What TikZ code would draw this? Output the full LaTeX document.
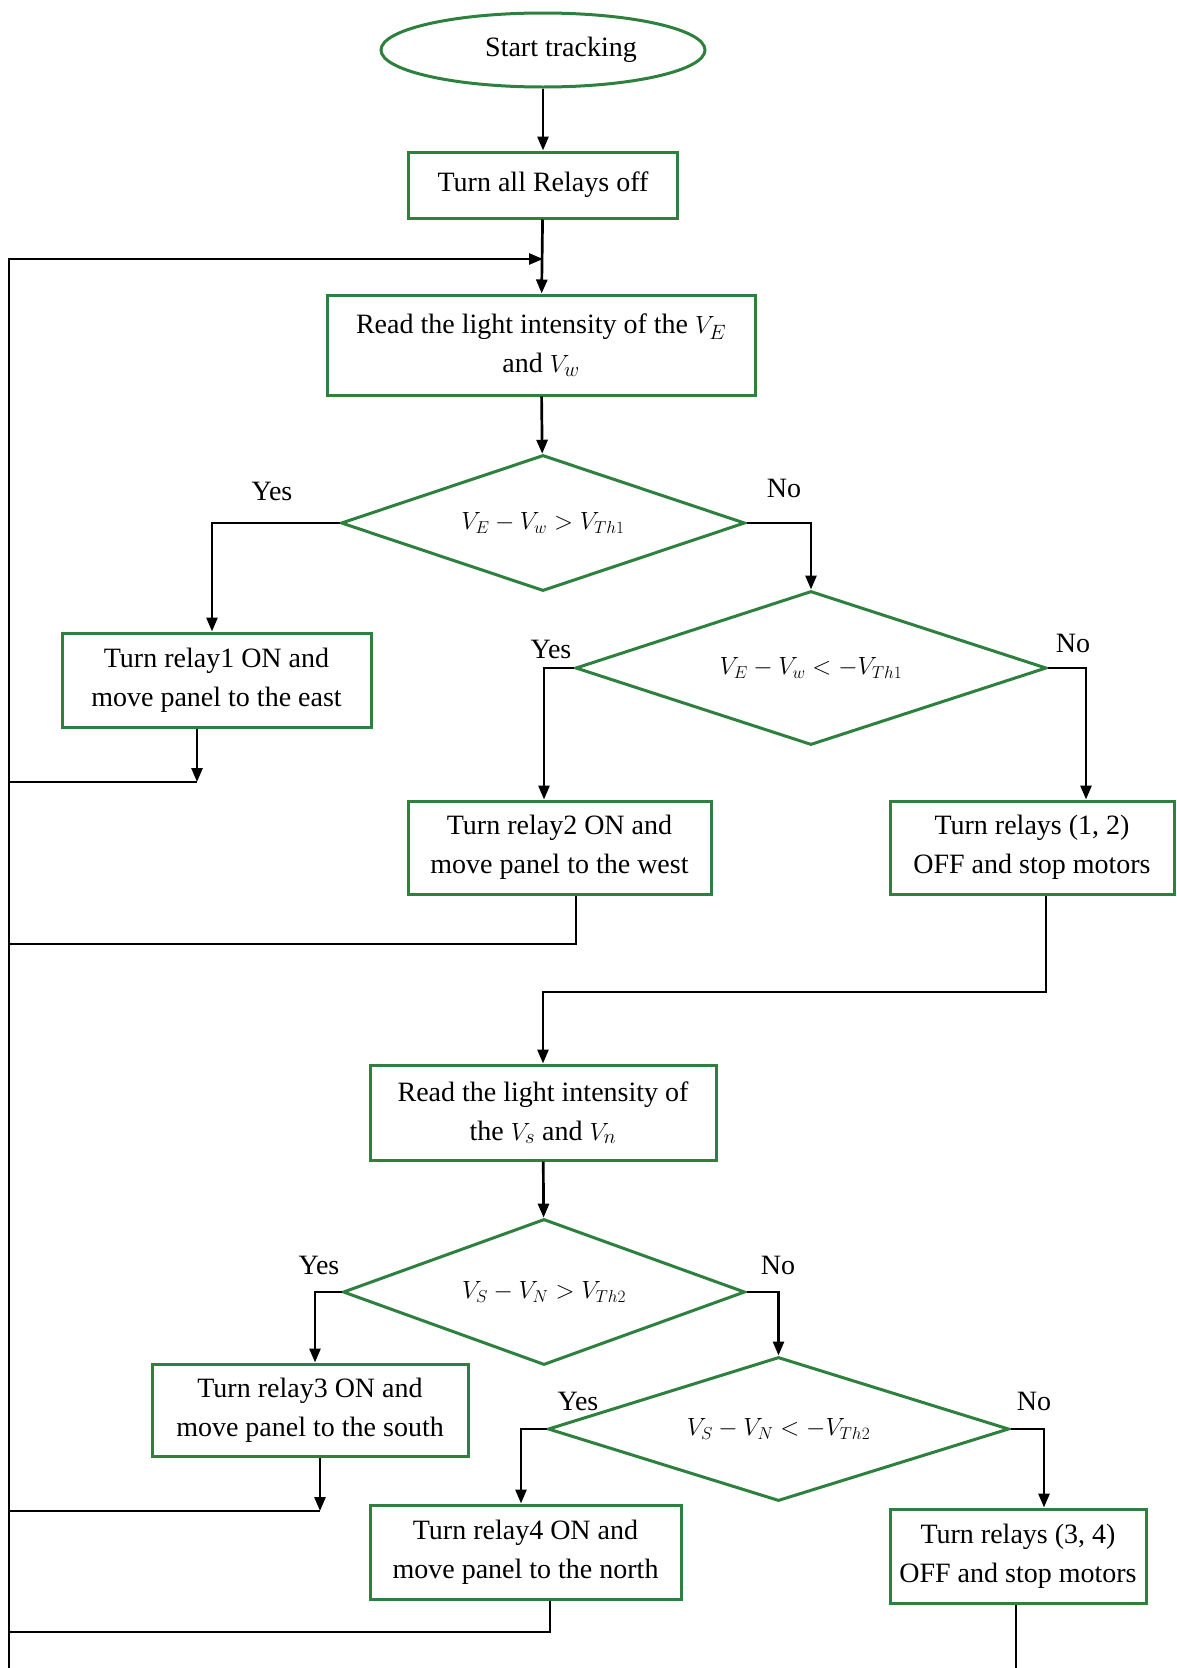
\documentclass[tikz,border=0pt]{standalone}
\usepackage{fontspec}
\setmainfont{Liberation Serif}
\usetikzlibrary{shapes.geometric,arrows.meta}
\definecolor{boxgreen}{RGB}{46,128,62}
\begin{document}
\begin{tikzpicture}[x=1pt,y=-1pt,
  box/.style={draw=boxgreen,line width=3pt,rectangle,align=center,inner sep=0pt,font=\fontsize{28}{39}\selectfont},
  dec/.style={draw=boxgreen,line width=3pt,diamond,aspect=3,inner sep=0pt,font=\fontsize{25}{30}\selectfont},
  term/.style={draw=boxgreen,line width=3pt,ellipse,inner sep=0pt,font=\fontsize{28}{32}\selectfont},
  lab/.style={font=\fontsize{28}{32}\selectfont},
  link/.style={line width=2.7pt,black},
  arr/.style={link,-{Triangle[length=14pt,width=11pt]}},
]
\fill[white] (0,0) rectangle (1176,1668);
\useasboundingbox (0,0) rectangle (1176,1668);

% nodes
\node[term,minimum width=324pt,minimum height=74pt] (start) at (543,50) {\hspace*{36pt}Start tracking};
\node[box,minimum width=269pt,minimum height=66pt] (off) at (543,185) {Turn all Relays off};
\node[box,minimum width=428pt,minimum height=100pt] (read1) at (541,345) {Read the light intensity of the $V_E$\\and $V_w$};
\node[dec,minimum width=404pt,minimum height=136pt] (d1) at (543,523) {$V_E - V_w > V_{Th1}$};
\node[box,minimum width=309pt,minimum height=94pt] (r1) at (216.5,680) {Turn relay1 ON and\\move panel to the east};
\node[dec,minimum width=471pt,minimum height=154pt] (d2) at (811,668) {$V_E - V_w < -V_{Th1}$};
\node[box,minimum width=303pt,minimum height=93pt] (r2) at (559.5,847.5) {Turn relay2 ON and\\move panel to the west};
\node[box,minimum width=284pt,minimum height=93pt] (r12) at (1032,847.5) {Turn relays (1, 2)\\OFF and stop motors};
\node[box,minimum width=346pt,minimum height=95pt] (read2) at (543,1112.5) {Read the light intensity of\\the $V_s$ and $V_n$};
\node[dec,minimum width=402pt,minimum height=146pt] (d3) at (544,1292) {$V_S - V_N > V_{Th2}$};
\node[box,minimum width=316pt,minimum height=92pt] (r3) at (310,1410) {Turn relay3 ON and\\move panel to the south};
\node[dec,minimum width=461pt,minimum height=144pt] (d4) at (778.5,1429) {$V_S - V_N < -V_{Th2}$};
\node[box,minimum width=311pt,minimum height=94pt] (r4) at (525.5,1552) {Turn relay4 ON and\\move panel to the north};
\node[box,minimum width=256pt,minimum height=94pt] (r34) at (1018,1556) {Turn relays (3, 4)\\OFF and stop motors};

% labels
\node[lab] (yes1) at (272,491) {Yes};
\node[lab] (no1) at (784,488) {No};
\node[lab] (yes2) at (551,649) {Yes};
\node[lab] (no2) at (1073,643) {No};
\node[lab] (yes3) at (319,1265) {Yes};
\node[lab] (no3) at (778,1265) {No};
\node[lab] (yes4) at (578,1401) {Yes};
\node[lab] (no4) at (1034,1401) {No};

% helper coordinates
\coordinate (Lbot) at (9,1668);
\coordinate (Ltop) at (9,259);
\coordinate (J0) at (543,259);
\coordinate (y1) at (212,0);
\coordinate (y2) at (544,0);
\coordinate (n2) at (1086,0);
\coordinate (y3) at (315,0);
\coordinate (y4) at (521,0);
\coordinate (n4) at (1044,0);
\coordinate (b1) at (197,782);
\coordinate (b2) at (576,944);
\coordinate (b3) at (1046,992);
\coordinate (b4) at (320,1511);
\coordinate (b5) at (550,1632);
\coordinate (out) at (1016,1668);

% connectors
\draw[arr] (start) -- (off);
\draw[arr] (off) -- (read1);
\draw[arr] (Lbot) -- (Ltop) -- (J0);
\draw[arr] (read1) -- (d1);
\draw[arr] (d1.west) -| (y1 |- r1.north);
\draw[arr] (d1.east) -| (d2.north);
\draw[arr] (d2.west) -| (y2 |- r2.north);
\draw[arr] (d2.east) -| (n2 |- r12.north);
\draw[arr] (b1 |- r1.south) -- (b1);
\draw[link] (b1) -- (b1 -| Lbot);
\draw[link] (b2 |- r2.south) -- (b2) -- (b2 -| Lbot);
\draw[arr] (b3 |- r12.south) -- (b3) -| (read2.north);
\draw[arr] (read2) -- (d3);
\draw[arr] (d3.west) -| (y3 |- r3.north);
\draw[arr] (d3.east) -| (d4.north);
\draw[arr] (d4.west) -| (y4 |- r4.north);
\draw[arr] (d4.east) -| (n4 |- r34.north);
\draw[arr] (b4 |- r3.south) -- (b4);
\draw[link] (b4) -- (b4 -| Lbot);
\draw[link] (b5 |- r4.south) -- (b5) -- (b5 -| Lbot);
\draw[link] (out |- r34.south) -- (out);
\end{tikzpicture}
\end{document}
